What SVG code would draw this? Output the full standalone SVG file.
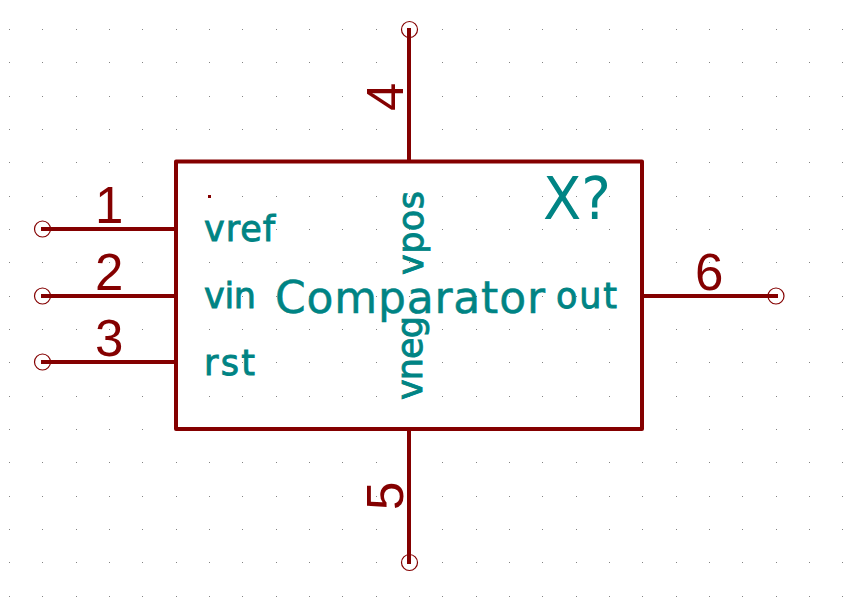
<svg xmlns="http://www.w3.org/2000/svg" xmlns:xlink="http://www.w3.org/1999/xlink" width="857" height="610" viewBox="0 0 857 610">
<style>
.bg{fill:#fff}
.dots{fill:none;stroke:#848484;stroke-width:1}
.body{fill:none;stroke:#840000;stroke-width:4;stroke-linejoin:round}
.wire{fill:none;stroke:#840000;stroke-width:4}
.end{fill:none;stroke:#840000;stroke-width:1.200}
.num{font-family:"Liberation Sans",Arial,sans-serif;font-size:51px;fill:#840000}
.lab{font-family:"DejaVu Sans",sans-serif;font-size:35px;fill:#008484;stroke:#008484;stroke-width:.9px}
.big{font-size:44px;stroke-width:.5px}
.ref{font-size:58px;stroke-width:0}
</style>
<defs>
<path id="row" class="dots" d="M9 .5h1M42 .5h1M76 .5h1M109 .5h1M142 .5h1M176 .5h1M209 .5h1M242 .5h1M276 .5h1M309 .5h1M342 .5h1M376 .5h1M409 .5h1M442 .5h1M476 .5h1M509 .5h1M542 .5h1M576 .5h1M609 .5h1M642 .5h1M676 .5h1M709 .5h1M742 .5h1M776 .5h1M809 .5h1M842 .5h1"/>
</defs>
<rect class="bg" width="857" height="610"/>
<g id="grid">
<use xlink:href="#row" href="#row" y="29"/><use xlink:href="#row" href="#row" y="62"/><use xlink:href="#row" href="#row" y="96"/><use xlink:href="#row" href="#row" y="129"/><use xlink:href="#row" href="#row" y="162"/><use xlink:href="#row" href="#row" y="196"/><use xlink:href="#row" href="#row" y="229"/><use xlink:href="#row" href="#row" y="262"/><use xlink:href="#row" href="#row" y="296"/><use xlink:href="#row" href="#row" y="329"/><use xlink:href="#row" href="#row" y="362"/><use xlink:href="#row" href="#row" y="396"/><use xlink:href="#row" href="#row" y="429"/><use xlink:href="#row" href="#row" y="462"/><use xlink:href="#row" href="#row" y="496"/><use xlink:href="#row" href="#row" y="529"/><use xlink:href="#row" href="#row" y="562"/><use xlink:href="#row" href="#row" y="596"/>
</g>
<g id="connectors">
<path class="wire" d="M41 229H176"/>
<path class="wire" d="M41 296H176"/>
<path class="wire" d="M41 362H176"/>
<path class="wire" d="M409 28V161"/>
<path class="wire" d="M409 564V429"/>
<path class="wire" d="M778 296H642"/>
</g>
<g id="comparator">
<rect class="body" x="176" y="161.500" width="466" height="267.500"/>
<rect x="208" y="195" width="3" height="3" fill="#840000"/>
<text class="lab big" x="275" y="313" textLength="270" lengthAdjust="spacing">Comparator</text>
<text class="lab ref" x="543" y="219" textLength="68" lengthAdjust="spacingAndGlyphs">X?</text>
<text class="lab" x="204" y="241" textLength="71" lengthAdjust="spacing">vref</text>
<text class="lab" x="204" y="308" textLength="52" lengthAdjust="spacing">vin</text>
<text class="lab" x="204" y="375" textLength="51" lengthAdjust="spacing">rst</text>
<text class="lab" x="556" y="308" textLength="61" lengthAdjust="spacing">out</text>
<text class="lab" transform="translate(423 275) rotate(-90)" textLength="84" lengthAdjust="spacing">vpos</text>
<text class="lab" transform="translate(422 400) rotate(-90)" textLength="84" lengthAdjust="spacing">vneg</text>
</g>
<g id="pin1"><circle class="end" cx="42.500" cy="229" r="8"/><text class="num" x="95" y="223">1</text></g>
<g id="pin2"><circle class="end" cx="42.500" cy="296" r="8"/><text class="num" x="95" y="290">2</text></g>
<g id="pin3"><circle class="end" cx="42.500" cy="362" r="8"/><text class="num" x="95" y="356">3</text></g>
<g id="pin4"><circle class="end" cx="409.500" cy="29.500" r="8"/><text class="num" transform="translate(403 111) rotate(-90)">4</text></g>
<g id="pin5"><circle class="end" cx="409.500" cy="562.500" r="8"/><text class="num" transform="translate(403 510) rotate(-90)">5</text></g>
<g id="pin6"><circle class="end" cx="776" cy="296" r="8"/><text class="num" x="695" y="290">6</text></g>
</svg>
